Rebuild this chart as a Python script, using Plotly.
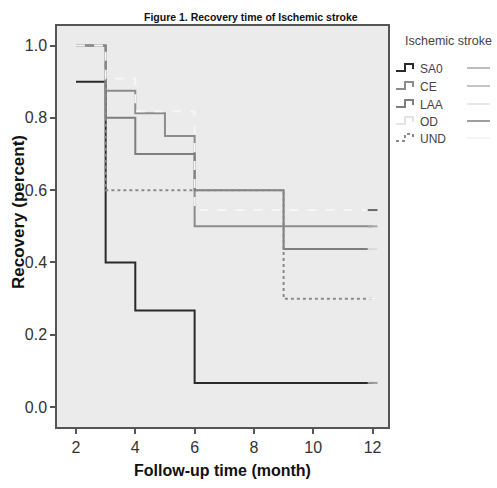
import plotly.graph_objects as go

# ---- data ----
groups = ["SA0", "CE", "LAA", "OD", "UND"]
t_sa0 = [2, 3, 4, 6, 12]
s_sa0 = [0.9, 0.4, 0.267, 0.067, 0.067]
t_ce = [2, 3, 4, 5, 6, 12]
s_ce = [1.0, 0.875, 0.8125, 0.75, 0.5, 0.5]
t_laa = [2, 3, 4, 6, 9, 12]
s_laa = [1.0, 0.8, 0.7, 0.6, 0.4375, 0.4375]
t_od = [2, 3, 4, 6, 12]
s_od = [1.0, 0.909, 0.818, 0.545, 0.545]
t_und = [2, 3, 9, 12]
s_und = [1.0, 0.6, 0.3, 0.3]

x_ticks = [2, 4, 6, 8, 10, 12]
y_ticks = [0.0, 0.2, 0.4, 0.6, 0.8, 1.0]

# ---- styles ----
colors = {"SA0": "#2a2a2a", "CE": "#8c8c8c", "LAA": "#7e7e7e", "OD": "#f6f6f6", "UND": "#8a8a8a"}
dashes = {"SA0": "solid", "CE": "solid", "LAA": "solid", "OD": "dash", "UND": "dot"}
cens_colors = {"SA0": "#9a9a9a", "CE": "#a8a8a8", "LAA": "#dcdcdc", "OD": "#6a6a6a", "UND": "#efefef"}

W, H = 497, 488
L, R, T, B = 57, 388, 26, 427

series = {
    "SA0": (t_sa0, s_sa0),
    "CE": (t_ce, s_ce),
    "LAA": (t_laa, s_laa),
    "UND": (t_und, s_und),
    "OD": (t_od, s_od),
}

fig = go.Figure()
for g, (t, s) in series.items():
    fig.add_trace(go.Scatter(
        x=t, y=s, mode="lines", line_shape="hv",
        line=dict(color=colors[g], width=2, dash=dashes[g]),
        showlegend=False, hoverinfo="skip"))
# censor marks at end
for g, (t, s) in series.items():
    fig.add_trace(go.Scatter(
        x=[t[-1]], y=[s[-1]], mode="markers",
        marker=dict(symbol="line-ew", size=7, line=dict(color=cens_colors[g], width=2)),
        showlegend=False, hoverinfo="skip"))

def px(x):
    return (x - L) / (R - L)

def py(y):
    return (B - y) / (B - T)

shapes = []
annotations = []
annotations.append(dict(text="Ischemic stroke", x=px(403), y=py(41), xref="paper", yref="paper",
                        xanchor="left", yanchor="middle", showarrow=False,
                        font=dict(family="Liberation Sans, Arial", size=12.5, color="#444")))
leg_y = [68, 86, 104, 121, 138]
for g, yy in zip(groups, leg_y):
    path = "M {} {} L {} {} L {} {} L {} {} L {} {}".format(
        px(396), py(yy + 3), px(405), py(yy + 3), px(405), py(yy - 4),
        px(413), py(yy - 4), px(413), py(yy + 1))
    shapes.append(dict(type="path", path=path, xref="paper", yref="paper",
                       line=dict(color=colors[g] if g != "OD" else "#e4e4e4", width=2,
                                 dash="dot" if g == "UND" else "solid")))
    shapes.append(dict(type="line", x0=px(467), x1=px(490), y0=py(yy), y1=py(yy),
                       xref="paper", yref="paper", line=dict(color=cens_colors[g], width=1.3)))
    annotations.append(dict(text=g, x=px(418), y=py(yy + 1), xref="paper", yref="paper",
                            xanchor="left", yanchor="middle", showarrow=False,
                            font=dict(family="Liberation Sans, Arial", size=12, color="#444")))

annotations.append(dict(text="<b>Figure 1. Recovery time of Ischemic stroke</b>", x=px(251), y=py(17),
                        xref="paper", yref="paper", xanchor="center", yanchor="middle", showarrow=False,
                        font=dict(family="Liberation Sans Narrow, Arial Narrow, Liberation Sans", size=10.5, color="#111")))
annotations.append(dict(text="<b>Recovery (percent)</b>", x=px(18), y=py(212), textangle=-90,
                        xref="paper", yref="paper", xanchor="center", yanchor="middle", showarrow=False,
                        font=dict(family="Liberation Sans, Arial", size=17, color="#111")))

fig.update_layout(
    width=W, height=H,
    margin=dict(l=L, r=W - R, t=T, b=H - B, pad=0),
    paper_bgcolor="white", plot_bgcolor="#ebebeb",
    shapes=shapes, annotations=annotations,
    xaxis=dict(range=[1.36, 12.52], tickvals=x_ticks, ticktext=[str(v) for v in x_ticks],
               automargin=False,
               showgrid=False, zeroline=False, showline=True, linecolor="#555", linewidth=1.5,
               mirror=True, ticks="outside", ticklen=5, tickcolor="#555", tickwidth=1.5,
               tickfont=dict(family="Liberation Sans, Arial", size=16, color="#333"),
               title=dict(text="<b>Follow-up time (month)</b>", standoff=10,
                          font=dict(family="Liberation Sans, Arial", size=16, color="#111"))),
    yaxis=dict(range=[-0.055, 1.054], tickvals=y_ticks, ticktext=["%.1f" % v for v in y_ticks],
               automargin=False,
               showgrid=False, zeroline=False, showline=True, linecolor="#555", linewidth=1.5,
               mirror=True, ticks="outside", ticklen=5, tickcolor="#555", tickwidth=1.5,
               tickfont=dict(family="Liberation Sans, Arial", size=16, color="#333")),
)

fig.write_html("out.html", config={"displayModeBar": False},
               post_script="document.body.style.margin='0';document.body.style.overflow='hidden';")
